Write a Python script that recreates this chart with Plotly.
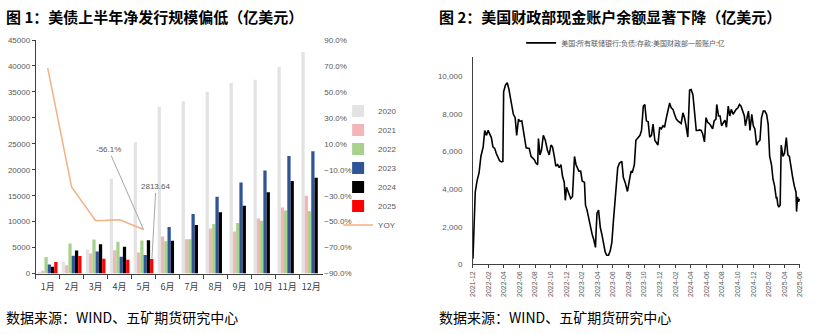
import plotly.graph_objects as go

W, H = 817, 334

# ---------------- Left chart data ----------------
months = ["1月", "2月", "3月", "4月", "5月", "6月", "7月", "8月", "9月", "10月", "11月", "12月"]
y2020 = [300, 2250, 4620, 18300, 25280, 32150, 33200, 35020, 36700, 37320, 39830, 42700]
y2021 = [560, 1620, 3870, 4490, 4060, 7120, 6620, 8670, 8110, 10620, 12730, 14980]
y2022 = [3180, 5800, 6550, 6120, 6370, 6240, 6620, 9550, 9740, 10170, 12170, 11990]
y2023 = [1750, 3430, 4250, 3240, 3560, 8990, 11490, 14790, 17550, 19850, 22660, 23540]
y2024 = [1300, 4430, 5620, 5180, 6410, 6310, 9360, 11800, 13050, 15670, 17850, 18480]
y2025 = [2200, 3400, 2850, 2660, 2813.64]
yoy = [68.3, -23.5, -49.3, -48.5, -56.1]

series_names = ["2020", "2021", "2022", "2023", "2024", "2025"]
series_vals = [y2020, y2021, y2022, y2023, y2024, y2025]
series_cols = ["#E3E3E3", "#F2B6B9", "#A9D18E", "#2F5597", "#000000", "#FF0000"]

# ---------------- Right chart data ----------------
tga_dates = [
    "2021-12-01", "2021-12-06", "2021-12-10", "2021-12-17", "2021-12-25",
    "2022-01-01", "2022-01-10", "2022-01-16", "2022-01-23", "2022-01-29",
    "2022-02-05", "2022-02-11", "2022-02-17", "2022-02-24", "2022-03-02",
    "2022-03-09", "2022-03-15", "2022-03-22", "2022-03-28", "2022-03-31",
    "2022-04-07", "2022-04-14", "2022-04-20", "2022-04-29", "2022-05-08",
    "2022-05-15", "2022-05-21", "2022-05-28", "2022-06-03", "2022-06-10",
    "2022-06-16", "2022-06-23", "2022-06-27", "2022-07-09", "2022-07-16",
    "2022-07-29", "2022-08-04", "2022-08-11", "2022-08-14", "2022-08-20",
    "2022-08-26", "2022-09-02", "2022-09-10", "2022-09-18", "2022-09-25",
    "2022-10-02", "2022-10-08", "2022-10-15", "2022-10-21", "2022-10-28",
    "2022-11-03", "2022-11-10", "2022-11-16", "2022-11-23", "2022-11-27",
    "2022-12-02", "2022-12-09", "2022-12-18", "2022-12-25", "2023-01-02",
    "2023-01-08", "2023-01-13", "2023-01-19", "2023-01-26", "2023-02-01",
    "2023-02-10", "2023-02-14", "2023-02-20", "2023-02-27", "2023-03-05",
    "2023-03-12", "2023-03-18", "2023-03-25", "2023-03-27", "2023-03-31",
    "2023-04-06", "2023-04-13", "2023-04-19", "2023-04-26", "2023-05-02",
    "2023-05-08", "2023-05-15", "2023-05-22", "2023-05-28", "2023-06-03",
    "2023-06-09", "2023-06-13", "2023-06-16", "2023-06-20", "2023-06-27",
    "2023-07-06", "2023-07-12", "2023-07-19", "2023-07-28", "2023-08-03",
    "2023-08-11", "2023-08-16", "2023-08-24", "2023-08-30", "2023-09-08",
    "2023-09-15", "2023-09-21", "2023-09-28", "2023-10-04", "2023-10-10",
    "2023-10-17", "2023-10-23", "2023-10-30", "2023-11-05", "2023-11-12",
    "2023-11-18", "2023-11-24", "2023-12-01", "2023-12-07", "2023-12-14",
    "2023-12-20", "2023-12-26", "2024-01-02", "2024-01-09", "2024-01-15",
    "2024-01-22", "2024-01-28", "2024-02-04", "2024-02-10", "2024-02-17",
    "2024-02-23", "2024-03-01", "2024-03-07", "2024-03-13", "2024-03-20",
    "2024-03-27", "2024-04-02", "2024-04-09", "2024-04-15", "2024-04-22",
    "2024-04-28", "2024-05-05", "2024-05-11", "2024-05-17", "2024-05-24",
    "2024-05-30", "2024-06-06", "2024-06-12", "2024-06-18", "2024-06-25",
    "2024-07-01", "2024-07-08", "2024-07-11", "2024-07-18", "2024-07-24",
    "2024-07-30", "2024-08-06", "2024-08-12", "2024-08-18", "2024-08-25",
    "2024-08-31", "2024-09-06", "2024-09-13", "2024-09-19", "2024-09-25",
    "2024-10-02", "2024-10-08", "2024-10-14", "2024-10-21", "2024-10-27",
    "2024-10-31", "2024-11-05", "2024-11-12", "2024-11-18", "2024-11-25",
    "2024-12-01", "2024-12-07", "2024-12-14", "2024-12-20", "2024-12-27",
    "2025-01-02", "2025-01-09", "2025-01-15", "2025-01-22", "2025-01-28",
    "2025-02-03", "2025-02-10", "2025-02-16", "2025-02-22", "2025-03-01",
    "2025-03-03", "2025-03-07", "2025-03-11", "2025-03-16", "2025-03-20",
    "2025-03-27", "2025-04-02", "2025-04-09", "2025-04-15", "2025-04-21",
    "2025-04-28", "2025-05-04", "2025-05-10", "2025-05-17", "2025-05-19",
    "2025-05-23", "2025-05-27", "2025-05-30",
]
tga_vals = [
    300, 2300, 3840, 4440, 4880,
    5740, 6250, 7120, 6860, 7120,
    6860, 6740, 6250, 6170, 5910,
    5650, 5510, 5450, 5480, 9180,
    9530, 9650, 9350, 8670, 7980,
    7800, 6860, 7720, 7600, 7630,
    7120, 6600, 6200, 6170, 5740,
    5570, 5390, 5310, 6690, 5820,
    6080, 6860, 6600, 6080, 5820,
    6340, 6250, 5740, 5220, 5310,
    5140, 5310, 4700, 4360, 3410,
    4100, 3800, 3500, 3600, 5740,
    5300, 5140, 4960, 4960, 4440,
    4360, 3150, 2890, 2380, 1950,
    1600, 1340, 910, 1600, 2720,
    2890, 1950, 1600, 1000, 660,
    490, 490, 740, 1170, 2290,
    3330, 4190, 4440, 5140, 5390,
    5480, 4620, 4360, 3880, 4360,
    4960, 4880, 5310, 6600, 6740,
    6860, 7120, 8410, 8500, 7630,
    7580, 6770, 6860, 7460, 6600,
    6430, 6340, 7290, 7200, 7370,
    7290, 7720, 8150, 8580, 8320,
    8240, 7980, 7720, 7630, 7540,
    7490, 8060, 7800, 7370, 6770,
    9270, 9300, 9010, 8240, 7120,
    7120, 7150, 7120, 6950, 6510,
    7800, 7540, 7490, 7370, 7200,
    7630, 7720, 8500, 7890, 7890,
    7370, 7540, 7670, 7290, 8410,
    7890, 8240, 7980, 8150, 8240,
    8320, 8500, 8410, 8150, 7890,
    7370, 7800, 8150, 7120, 7980,
    7370, 7200, 6340, 6510, 6600,
    7800, 8150, 8150, 7980, 7460,
    5740, 5310, 4530, 4190, 3500,
    3590, 3150, 3070, 3150, 6340,
    5740, 5910, 6740, 5820, 5740,
    5050, 4620, 4190, 3840, 2810,
    3590, 3330, 3500,
]
tga_name = "美国:所有联储银行:负债:存款:美国财政部一般账户:亿"

# ---------------- helpers ----------------
def px_x(p):
    return p / W

def px_y(p):
    return 1 - p / H

CJK = "Noto Sans CJK SC"
NUM = "Liberation Sans"

fig = go.Figure()

for name, vals, col in zip(series_names, series_vals, series_cols):
    fig.add_trace(go.Bar(
        x=months[:len(vals)], y=vals, name=name, marker=dict(color=col, line=dict(width=0)),
        xaxis="x", yaxis="y", legend="legend",
    ))

fig.add_trace(go.Scatter(
    x=months[:len(yoy)], y=yoy, name="YOY", mode="lines",
    line=dict(color="#F4B183", width=1.5), xaxis="x", yaxis="y2", legend="legend",
))

fig.add_trace(go.Scatter(
    x=tga_dates, y=tga_vals, name=tga_name, mode="lines",
    line=dict(color="#000000", width=1.6), xaxis="x2", yaxis="y3", legend="legend2",
))

axis_col = "#404040"
lab_col = "#595959"

fig.update_layout(
    width=W, height=H,
    margin=dict(l=0, r=0, t=0, b=0),
    paper_bgcolor="white", plot_bgcolor="white",
    barmode="group", bargap=0.18, bargroupgap=0,
    showlegend=True,
    xaxis=dict(
        domain=[px_x(32), px_x(322)], anchor="y", type="category",
        categoryorder="array", categoryarray=months, tickangle=0,
        showline=True, linecolor=axis_col, linewidth=1,
        ticks="outside", ticklen=4, tickcolor=axis_col, tickson="boundaries",
        ticklabelstandoff=5,
        tickfont=dict(family=CJK, size=9, color="#404040"),
        showgrid=False, zeroline=False,
    ),
    yaxis=dict(
        domain=[px_y(277), px_y(37)], anchor="x", range=[0, 45000], dtick=5000,
        tickformat="d", showline=True, linecolor=axis_col, linewidth=1,
        ticks="outside", ticklen=3, tickcolor=axis_col,
        tickfont=dict(family=NUM, size=8, color=lab_col),
        showgrid=False, zeroline=False,
    ),
    yaxis2=dict(
        overlaying="y", side="right", anchor="x", range=[-90, 90],
        tick0=-90, dtick=20, tickformat=".1f", ticksuffix="%",
        showline=False, ticks="", showgrid=False, zeroline=False,
        tickfont=dict(family=NUM, size=8, color=lab_col),
    ),
    xaxis2=dict(
        domain=[px_x(473), px_x(803)], anchor="y3", type="date",
        range=["2021-12-01", "2025-06-02"],
        tick0="2021-12-01", dtick="M2", tickformat="%Y-%m", tickangle=-90,
        showline=True, linecolor=axis_col, linewidth=1,
        ticks="outside", ticklen=3, tickcolor=axis_col,
        tickfont=dict(family=NUM, size=7, color=lab_col),
        showgrid=False, zeroline=False,
    ),
    yaxis3=dict(
        domain=[px_y(267.7), px_y(54.9)], anchor="x2", range=[0, 11000],
        tickvals=[0, 2000, 4000, 6000, 8000, 10000], tickformat=",",
        showline=True, linecolor=axis_col, linewidth=1,
        ticks="", ticklabelstandoff=8,
        tickfont=dict(family=NUM, size=8, color=lab_col),
        showgrid=False, zeroline=False,
    ),
    legend=dict(
        x=px_x(337), y=px_y(95), xanchor="left", yanchor="top",
        orientation="v", tracegroupgap=0, bgcolor="rgba(0,0,0,0)",
        font=dict(family=NUM, size=8, color=lab_col),
    ),
    legend2=dict(
        x=px_x(627), y=px_y(40), xanchor="center", yanchor="middle",
        orientation="h", bgcolor="rgba(0,0,0,0)",
        font=dict(family=CJK, size=7, color=lab_col),
    ),
)

annotations = [
    dict(text="<b>图 1：美债上半年净发行规模偏低（亿美元）</b>", xref="paper", yref="paper",
         x=0, y=px_y(13), xanchor="left", yanchor="middle", showarrow=False,
         font=dict(family=CJK, size=15, color="#000000")),
    dict(text="<b>图 2：美国财政部现金账户余额显著下降（亿美元）</b>", xref="paper", yref="paper",
         x=px_x(437), y=px_y(13), xanchor="left", yanchor="middle", showarrow=False,
         font=dict(family=CJK, size=15, color="#000000")),
    dict(text="数据来源：WIND、五矿期货研究中心", xref="paper", yref="paper",
         x=0, y=px_y(322), xanchor="left", yanchor="middle", showarrow=False,
         font=dict(family=CJK, size=14, color="#000000")),
    dict(text="数据来源：WIND、五矿期货研究中心", xref="paper", yref="paper",
         x=px_x(437), y=px_y(322), xanchor="left", yanchor="middle", showarrow=False,
         font=dict(family=CJK, size=14, color="#000000")),
    dict(text=f"{yoy[4]:.1f}%", xref="x", yref="y2", x=4, y=yoy[4],
         ax=-35, ay=-80, showarrow=True, arrowhead=0, arrowwidth=1, arrowcolor="#A6A6A6",
         font=dict(family=NUM, size=8, color=lab_col)),
    dict(text=f"{y2025[4]:.2f}", xref="x", yref="y", x=4.35, y=y2025[4],
         ax=4, ay=-72, showarrow=True, arrowhead=0, arrowwidth=1, arrowcolor="#A6A6A6",
         font=dict(family=NUM, size=8, color=lab_col)),
]
fig.update_layout(annotations=annotations)

fig.write_html("out.html")
